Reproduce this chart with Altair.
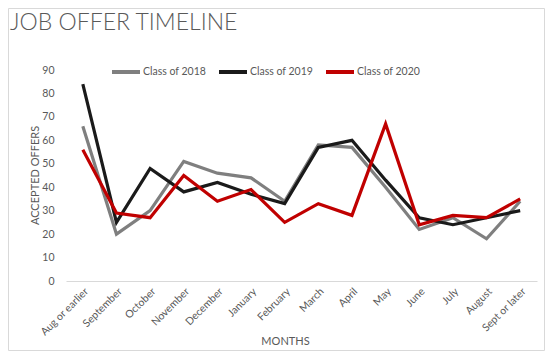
import altair as alt
import pandas as pd

months = ["Aug or earlier", "September", "October", "November", "December", "January",
          "February", "March", "April", "May", "June", "July", "August", "Sept or later"]
series_names = ["Class of 2018", "Class of 2019", "Class of 2020"]
class_2018 = [66, 20, 30, 51, 46, 44, 34, 58, 57, 40, 22, 27, 18, 34]
class_2019 = [84, 25, 48, 38, 42, 37, 33, 57, 60, 43, 27, 24, 27, 30]
class_2020 = [56, 29, 27, 45, 34, 39, 25, 33, 28, 67, 24, 28, 27, 35]
colors = ["#7f7f7f", "#1a1a1a", "#c00000"]
y_ticks = [0, 10, 20, 30, 40, 50, 60, 70, 80, 90]
title_text = "JOB OFFER TIMELINE"

rows = []
for name, vals in zip(series_names, [class_2018, class_2019, class_2020]):
    for m, v in zip(months, vals):
        rows.append({"month": m, "series": name, "value": v})
df = pd.DataFrame(rows)

FONT = "Lato"
TXT = "#595959"
W, H = 471, 211

lines = alt.Chart(df).mark_line(strokeWidth=3.2, strokeJoin="miter", strokeCap="butt").encode(
    x=alt.X("month:N", sort=months, scale=alt.Scale(padding=0.5),
            axis=alt.Axis(title="MONTHS", labelAngle=-45, labelAlign="right", labelBaseline="top",
                          labelPadding=5, ticks=False, domain=True, domainColor="#d9d9d9", domainWidth=1,
                          labelFontSize=10.5, labelColor=TXT, labelFont=FONT,
                          titleFont=FONT, titleFontSize=11, titleColor=TXT, titleFontWeight="normal",
                          titleX=219, titleY=60, titleBaseline="middle", labelOverlap=False)),
    y=alt.Y("value:Q", scale=alt.Scale(domain=[0, 90], nice=False),
            axis=alt.Axis(title="ACCEPTED OFFERS", values=y_ticks, grid=False, domain=False, ticks=False,
                          labelPadding=12, labelFontSize=10.5, labelColor=TXT, labelFont=FONT,
                          titleFont=FONT, titleFontSize=11, titleColor=TXT, titleFontWeight="normal",
                          titleX=-31, titleY=105, titleAngle=-90, titleBaseline="middle", titleAlign="center")),
    color=alt.Color("series:N", sort=series_names,
                    scale=alt.Scale(domain=series_names, range=colors),
                    legend=alt.Legend(title=None, orient="none", direction="horizontal",
                                      legendX=44, legendY=-14, symbolType="stroke",
                                      symbolSize=784, symbolStrokeWidth=4, labelFont=FONT,
                                      labelFontSize=10.5, labelColor=TXT, labelOffset=1,
                                      columnPadding=4)),
)

title_df = pd.DataFrame({"t": [title_text]})
title = alt.Chart(title_df).mark_text(font=FONT, fontSize=23, fontWeight=300, color=TXT,
                                      align="left", baseline="alphabetic").encode(
    text="t:N", x=alt.value(-56), y=alt.value(-40))

border = alt.Chart(title_df).mark_rect(fill="transparent", stroke="#d9d9d9", strokeWidth=1).encode(
    x=alt.value(-57.5), x2=alt.value(478.5), y=alt.value(-61.5), y2=alt.value(280.5))

chart = alt.layer(border, title, lines).properties(
    width=W, height=H,
    background="white",
    autosize=alt.AutoSizeParams(type="none"),
    padding={"left": 58, "top": 62, "right": 8, "bottom": 70},
).configure_view(stroke="transparent", strokeWidth=0)

chart.save("out.html", embed_options={"renderer": "svg", "actions": False})
